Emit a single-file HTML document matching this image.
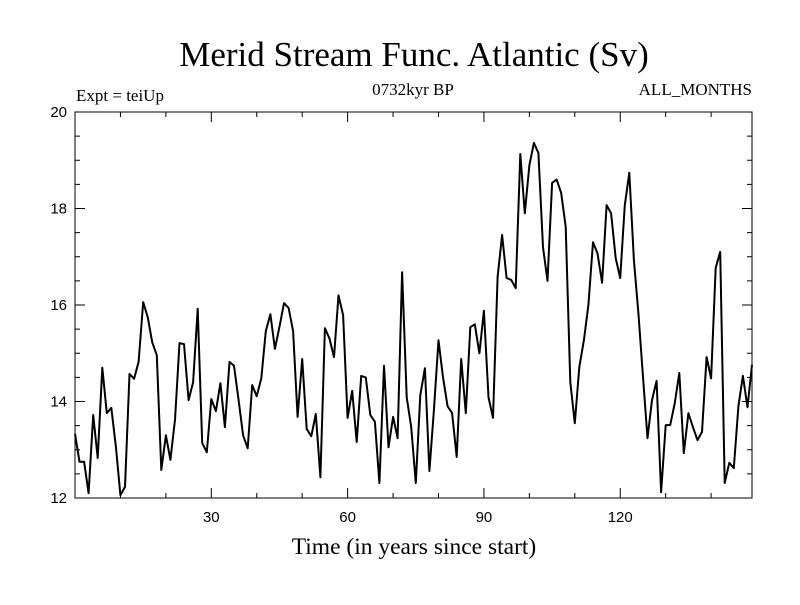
<!DOCTYPE html>
<html><head><meta charset="utf-8"><style>
html,body{margin:0;padding:0;background:#fff}
svg text.serif{font-family:"Liberation Serif",serif}
svg text.sans{font-family:"Liberation Sans",sans-serif}
</style></head><body>
<svg width="800" height="600">
<rect width="800" height="600" fill="#fff"/>
<text class="serif" x="414" y="66" font-size="35" text-anchor="middle">Merid Stream Func. Atlantic (Sv)</text>
<text class="serif" x="76" y="101" font-size="17">Expt = teiUp</text>
<text class="serif" x="413" y="95" font-size="17" text-anchor="middle">0732kyr BP</text>
<text class="serif" x="752" y="95" font-size="17" text-anchor="end">ALL_MONTHS</text>
<text class="serif" x="414" y="554" font-size="23.5" text-anchor="middle">Time (in years since start)</text>
<g id="axes"></g>
<path id="series" fill="none" stroke="#000" stroke-width="2" stroke-linejoin="round"/>
<rect x="75" y="112" width="677" height="386" fill="none" stroke="#000" stroke-width="1"/>
</svg>
<script>
const values = [13.33,12.75,12.75,12.1,13.72,12.83,14.7,13.76,13.87,13.06,12.06,12.23,14.57,14.47,14.82,16.06,15.75,15.23,14.96,12.58,13.3,12.79,13.62,15.21,15.19,14.03,14.4,15.92,13.14,12.95,14.05,13.8,14.38,13.47,14.82,14.74,14.03,13.3,13.03,14.34,14.11,14.48,15.46,15.81,15.09,15.55,16.04,15.94,15.46,13.68,14.88,13.43,13.28,13.74,12.43,15.52,15.31,14.92,16.2,15.79,13.66,14.22,13.16,14.53,14.5,13.72,13.58,12.31,14.74,13.05,13.68,13.24,16.68,14.09,13.47,12.31,14.13,14.69,12.56,13.82,15.27,14.5,13.9,13.76,12.85,14.88,13.76,15.54,15.6,15.0,15.88,14.09,13.66,16.58,17.45,16.56,16.52,16.35,19.13,17.9,18.9,19.36,19.15,17.2,16.5,18.53,18.6,18.32,17.62,14.4,13.55,14.71,15.27,16.0,17.3,17.07,16.46,18.07,17.9,16.97,16.56,18.07,18.74,16.93,15.83,14.51,13.24,14.03,14.43,12.12,13.51,13.51,13.97,14.59,12.93,13.76,13.47,13.2,13.37,14.92,14.48,16.77,17.1,12.31,12.73,12.62,13.9,14.53,13.88,14.76];
const xTicks = [30,60,90,120];
const yTicks = [12,14,16,18,20];
const X0=75,X1=752,Y0=498,Y1=112;
const xMax = values.length-1;
function xs(t){return X0+(t)/xMax*(X1-X0);}
function ys(v){return Y0-(v-12)/8*(Y0-Y1);}
const ns="http://www.w3.org/2000/svg";
const g=document.getElementById('axes');
function line(x1,y1,x2,y2,name){const l=document.createElementNS(ns,'line');l.setAttribute('x1',x1);l.setAttribute('y1',y1);l.setAttribute('x2',x2);l.setAttribute('y2',y2);l.setAttribute('stroke','#000');l.setAttribute('stroke-width','1');


g.appendChild(l);}
function txt(x,y,s,anchor,name){const t=document.createElementNS(ns,'text');t.setAttribute('x',x);t.setAttribute('y',y);t.setAttribute('font-size','15');t.setAttribute('text-anchor',anchor);t.setAttribute('class','sans');t.textContent=s;


g.appendChild(t);}
for(let v=12;v<=20;v+=0.5){const y=ys(v);const L=(v%2===0)?10:5;line(X0,y,X0+L,y,'y-tick');line(X1,y,X1-L,y,'y-tick-right');}
for(let t=10;t<xMax;t+=10){const x=xs(t);const L=(t%30===0)?10:5;line(x,Y0,x,Y0-L,'x-tick');line(x,Y1,x,Y1+L,'x-tick-top');}
yTicks.forEach(v=>txt(67,ys(v)+5,String(v),'end','y-tick-label'));
xTicks.forEach(t=>txt(xs(t),522,String(t),'middle','x-tick-label'));
document.getElementById('series').setAttribute('d',values.map((v,i)=>(i?'L':'M')+xs(i).toFixed(1)+','+ys(v).toFixed(1)).join(''));
</script>
</body></html>
